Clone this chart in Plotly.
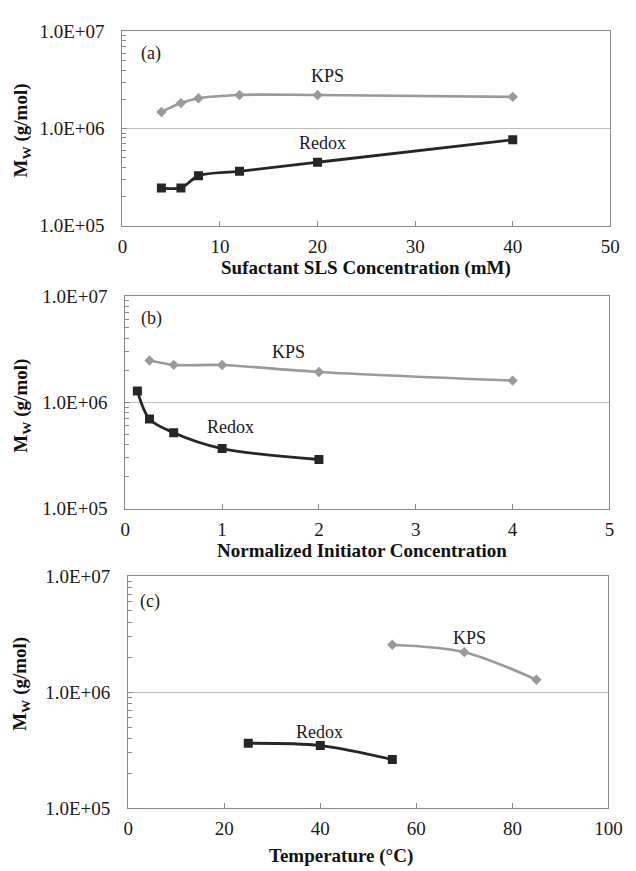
import math
import plotly.graph_objects as go

# Panel (a): surfactant SLS concentration (mM)
a_kps_x = [4, 6, 7.8, 12, 20, 40]
a_kps_y = [1.48e6, 1.83e6, 2.05e6, 2.22e6, 2.22e6, 2.12e6]
a_redox_x = [4, 6, 7.8, 12, 20, 40]
a_redox_y = [2.45e5, 2.45e5, 3.26e5, 3.63e5, 4.5e5, 7.66e5]

# Panel (b): normalized initiator concentration
b_kps_x = [0.25, 0.5, 1, 2, 4]
b_kps_y = [2.47e6, 2.25e6, 2.24e6, 1.93e6, 1.6e6]
b_redox_x = [0.125, 0.25, 0.5, 1, 2]
b_redox_y = [1.28e6, 6.95e5, 5.18e5, 3.67e5, 2.9e5]

# Panel (c): temperature (°C)
c_kps_x = [55, 70, 85]
c_kps_y = [2.56e6, 2.21e6, 1.28e6]
c_redox_x = [25, 40, 55]
c_redox_y = [3.63e5, 3.47e5, 2.63e5]

y_tickvals = [1e5, 1e6, 1e7]
y_ticktext = ["1.0E+05", "1.0E+06", "1.0E+07"]
minor_vals = [m * 10 ** e for e in (5, 6) for m in range(2, 10)]

W, H = 636, 871
FONT = "Liberation Serif, Times New Roman, serif"
KPS_COLOR = "#9a9a9a"
REDOX_COLOR = "#262626"
AXIS_COLOR = "#8a8a8a"

panels = [
    dict(kx=a_kps_x, ky=a_kps_y, rx=a_redox_x, ry=a_redox_y,
         px=(121, 624), py=(22, 221), xr=[0, 50], dt=10,
         xtitle="Sufactant SLS Concentration (mM)", xt_pos=(372, 264), yt_pos=(18, 123),
         label="(a)", label_pos=(2.9, 6.0e6), kps_pos=(21, 3.5e6), redox_pos=(20.5, 7.1e5)),
    dict(kx=b_kps_x, ky=b_kps_y, rx=b_redox_x, ry=b_redox_y,
         px=(124, 623), py=(293, 511), xr=[0, 5], dt=1,
         xtitle="Normalized Initiator Concentration", xt_pos=(368, 554), yt_pos=(18, 405),
         label="(b)", label_pos=(0.27, 6.2e6), kps_pos=(1.69, 3.0e6), redox_pos=(1.09, 5.8e5)),
    dict(kx=c_kps_x, ky=c_kps_y, rx=c_redox_x, ry=c_redox_y,
         px=(127, 622), py=(580, 818), xr=[0, 100], dt=20,
         xtitle="Temperature (°C)", xt_pos=(346, 867), yt_pos=(17, 690),
         label="(c)", label_pos=(4.5, 6.0e6), kps_pos=(71, 2.95e6), redox_pos=(39.8, 4.57e5)),
]

fig = go.Figure()
annotations = []
for i, p in enumerate(panels, start=1):
    sx = "" if i == 1 else str(i)
    xref, yref = "x" + sx, "y" + sx
    fig.add_trace(go.Scatter(
        x=p["kx"], y=p["ky"], mode="lines+markers", xaxis=xref, yaxis=yref,
        line=dict(color=KPS_COLOR, width=2.6, shape="spline", smoothing=0.9),
        marker=dict(symbol="diamond", size=8, color=KPS_COLOR), showlegend=False))
    fig.add_trace(go.Scatter(
        x=p["rx"], y=p["ry"], mode="lines+markers", xaxis=xref, yaxis=yref,
        line=dict(color=REDOX_COLOR, width=2.8, shape="spline", smoothing=0.9),
        marker=dict(symbol="square", size=9, color=REDOX_COLOR), showlegend=False))

    xd = [p["px"][0] / W, p["px"][1] / W]
    yd = [1 - p["py"][1] / H, 1 - p["py"][0] / H]
    fig.update_layout(**{
        "xaxis" + sx: dict(
            domain=xd, range=p["xr"], anchor=yref, dtick=p["dt"], tick0=0,
            showgrid=False, zeroline=False, showline=True, mirror=True,
            linecolor=AXIS_COLOR, linewidth=1.2, ticks="inside", ticklen=5,
            tickcolor=AXIS_COLOR, ticklabelstandoff=3,
            tickfont=dict(family=FONT, size=19, color="#1a1a1a")),
        "yaxis" + sx: dict(
            domain=yd, type="log", range=[5, 7], anchor=xref,
            tickvals=y_tickvals, ticktext=y_ticktext,
            showgrid=True, gridcolor="#bdbdbd", gridwidth=1, zeroline=False,
            showline=True, mirror=True, linecolor=AXIS_COLOR, linewidth=1.2,
            ticks="inside", ticklen=5, tickcolor=AXIS_COLOR, ticklabelstandoff=13,
            minor=dict(tickvals=minor_vals, ticks="inside", ticklen=4,
                       tickcolor=AXIS_COLOR, showgrid=False),
            tickfont=dict(family=FONT, size=19, color="#1a1a1a")),
    })

    txt = dict(family=FONT, size=18, color="#1a1a1a")
    annotations += [
        dict(x=p["label_pos"][0], y=math.log10(p["label_pos"][1]), xref=xref, yref=yref,
             text=p["label"], showarrow=False, font=txt, yanchor="middle", xanchor="center"),
        dict(x=p["kps_pos"][0], y=math.log10(p["kps_pos"][1]), xref=xref, yref=yref,
             text="KPS", showarrow=False, font=txt),
        dict(x=p["redox_pos"][0], y=math.log10(p["redox_pos"][1]), xref=xref, yref=yref,
             text="Redox", showarrow=False, font=txt),
        dict(x=p["xt_pos"][0] / W, y=1 - p["xt_pos"][1] / H, xref="paper", yref="paper",
             text="<b>" + p["xtitle"] + "</b>", showarrow=False,
             font=dict(family=FONT, size=19, color="#111111"),
             xanchor="center", yanchor="middle"),
        dict(x=p["yt_pos"][0] / W, y=1 - p["yt_pos"][1] / H, xref="paper", yref="paper",
             text="<b>M<sub>W</sub> (g/mol)</b>", showarrow=False, textangle=-90,
             font=dict(family=FONT, size=19, color="#111111"),
             xanchor="center", yanchor="middle"),
    ]

fig.update_layout(
    width=W, height=H, margin=dict(l=0, r=0, t=0, b=0),
    paper_bgcolor="white", plot_bgcolor="white",
    annotations=annotations, showlegend=False,
)

fig.write_html("out.html")
